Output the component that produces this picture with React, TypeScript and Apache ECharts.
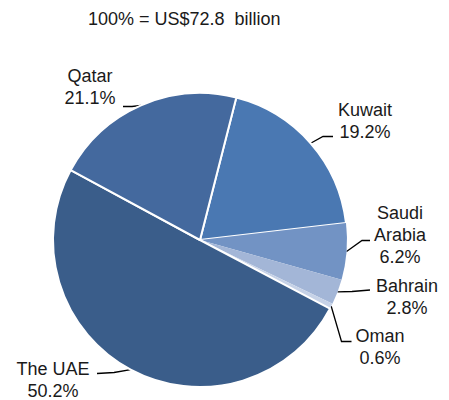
import React, { useEffect, useRef } from "react";
import * as echarts from "echarts";

const categories = ["Kuwait", "Saudi\nArabia", "Bahrain", "Oman", "The UAE", "Qatar"];
const shares = [19.2, 6.2, 2.8, 0.6, 50.2, 21.1];
const colors = ["#4a78b2", "#7293c4", "#a3b6d7", "#c6d2e7", "#3a5d8a", "#44699e"];
const borderWidths = [2, 0, 0, 0, 2, 2];
const titleText = "100% = US$72.8  billion";

// label layout: text centre and label-line bend/end points (px)
const labelCenters: [number, number][] = [
  [365, 121],
  [400, 235],
  [407, 297],
  [380, 347],
  [53, 380],
  [90, 87],
];
const lineBends: [number, number][][] = [
  [[323, 136.5], [333, 136.5]],
  [[362, 240.5], [370, 240.5]],
  [[352, 291.5], [370, 290]],
  [[341.5, 341.5], [351.5, 341.5]],
  [[114, 372.5], [97, 373.5]],
  [[132, 106.5], [123, 106.5]],
];

const CX = 200;
const CY = 240;
const R = 147;
const FONT = "'Liberation Sans', Arial, Helvetica, sans-serif";

export default function App() {
  const ref = useRef<HTMLDivElement>(null);
  useEffect(() => {
    document.body.style.margin = "0";
    if (!ref.current) return;
    const chart = echarts.init(ref.current, undefined, { renderer: "svg" });
    const data = categories.map((name, i) => ({
      name,
      value: shares[i],
      itemStyle: { color: colors[i], borderColor: "#ffffff", borderWidth: borderWidths[i] },
    }));
    chart.setOption({
      animation: false,
      backgroundColor: "#ffffff",
      title: {
        text: titleText,
        left: 88,
        top: 10,
        padding: 0,
        textStyle: { fontFamily: FONT, fontSize: 18, fontWeight: "normal", color: "#1a1a1a" },
      },
      series: [
        {
          type: "pie",
          center: [CX, CY],
          radius: [0, R],
          startAngle: 75.7,
          clockwise: true,
          data,
          label: {
            show: true,
            position: "outside",
            fontFamily: FONT,
            fontSize: 18,
            lineHeight: 22,
            color: "#1a1a1a",
            align: "center",
            formatter: (p: any) => `${p.name}\n${Number(p.value).toFixed(1)}%`,
          },
          labelLine: {
            show: true,
            length: 10,
            length2: 10,
            lineStyle: { color: "#000000", width: 1.3 },
          },
          labelLayout: (params: any) => {
            const i = params.dataIndex;
            const c = labelCenters[i];
            const p0 =
              params.labelLinePoints && params.labelLinePoints[0]
                ? params.labelLinePoints[0]
                : [CX, CY];
            return {
              x: c[0],
              y: c[1],
              align: "center",
              verticalAlign: "middle",
              labelLinePoints: [p0, lineBends[i][0], lineBends[i][1]],
            };
          },
        },
      ],
    });
    return () => chart.dispose();
  }, []);
  return <div ref={ref} style={{ width: 449, height: 400 }} />;
}
